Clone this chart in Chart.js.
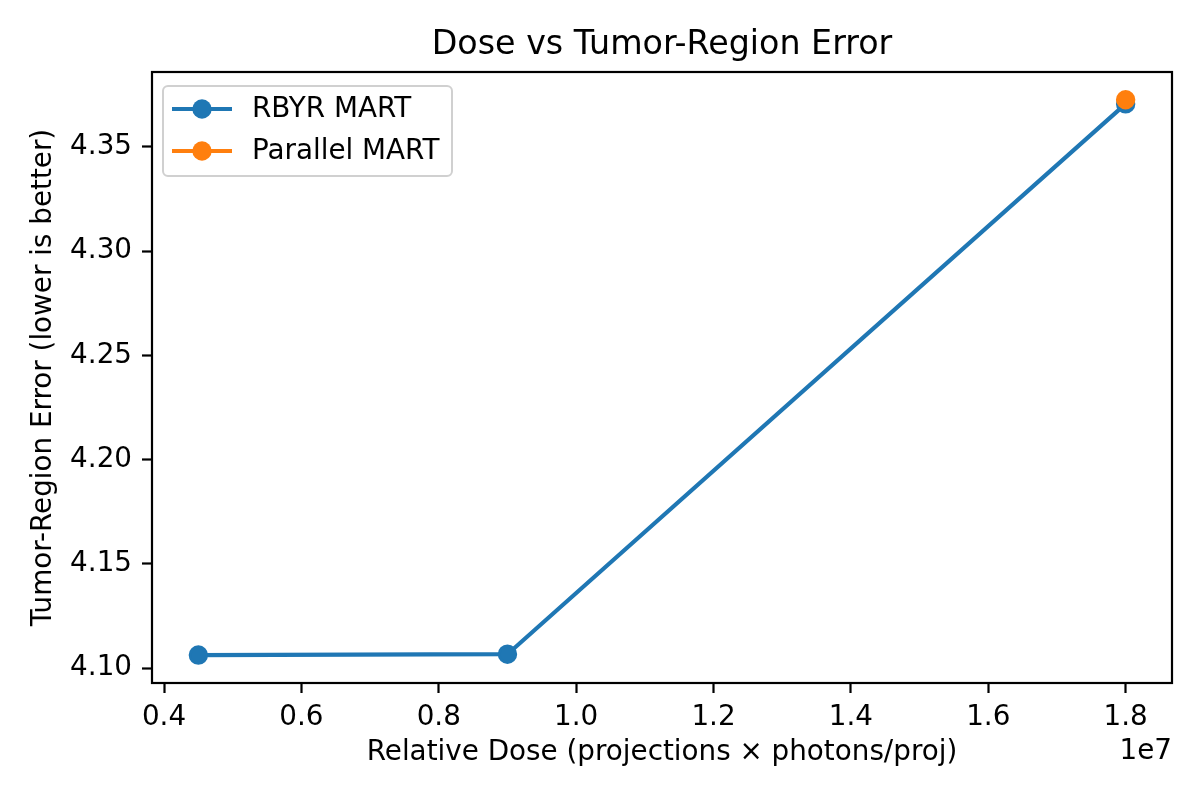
<!DOCTYPE html>
<html>
<head>
<meta charset="utf-8">
<script src="https://cdn.jsdelivr.net/npm/chart.js@4.4.0/dist/chart.umd.min.js"></script>
<style>
  body { margin: 0; background: #fff; }
  canvas { display: block; }
</style>
</head>
<body>
<canvas id="chart" width="1200" height="800"></canvas>
<script>
// data
const doseValues = [4.5e6, 9e6, 1.8e7];
const rbyrError = [4.1063, 4.1067, 4.3706];
const parallelDose = [1.8e7];
const parallelError = [4.3726];
const xTickValues = [4e6, 6e6, 8e6, 1e7, 1.2e7, 1.4e7, 1.6e7, 1.8e7];
const yTickValues = [4.10, 4.15, 4.20, 4.25, 4.30, 4.35];

const BLUE = '#1f77b4';
const ORANGE = '#ff7f0e';
const FONT = "'DejaVu Sans', sans-serif";
const FS = 27.8;
const TITLE = 'Dose vs Tumor-Region Error';

const toPoints = (xs, ys) => xs.map((x, i) => ({ x: x, y: ys[i] }));

// box round the axes, title centred over the axes, and the 1e7 offset text
const framePlugin = {
  id: 'frame',
  afterDraw(chart) {
    const { ctx, chartArea } = chart;
    ctx.save();
    ctx.strokeStyle = '#000';
    ctx.lineWidth = 2.2;
    ctx.strokeRect(chartArea.left, chartArea.top, chartArea.right - chartArea.left, chartArea.bottom - chartArea.top);
    ctx.fillStyle = '#000';
    ctx.font = '33.3px ' + FONT;
    ctx.textAlign = 'center';
    ctx.textBaseline = 'middle';
    ctx.fillText(TITLE, (chartArea.left + chartArea.right) / 2, 45);
    ctx.font = FS + 'px ' + FONT;
    ctx.textAlign = 'right';
    ctx.fillText('1e7', chartArea.right, 752);
    ctx.restore();
  }
};

// matplotlib-like legend in the upper left of the axes
const legendPlugin = {
  id: 'boxLegend',
  afterDraw(chart) {
    const { ctx, chartArea } = chart;
    const x0 = chartArea.left + 11;
    const y0 = chartArea.top + 14;
    const w = 289, h = 90;
    ctx.save();
    ctx.beginPath();
    ctx.roundRect(x0, y0, w, h, 5);
    ctx.fillStyle = 'rgba(255,255,255,0.8)';
    ctx.fill();
    ctx.strokeStyle = '#d0d0d0';
    ctx.lineWidth = 2;
    ctx.stroke();
    chart.data.datasets.forEach((ds, i) => {
      const y = y0 + 23 + i * 42;
      ctx.strokeStyle = ds.borderColor;
      ctx.lineWidth = 4.2;
      ctx.beginPath();
      ctx.moveTo(x0 + 9, y);
      ctx.lineTo(x0 + 69, y);
      ctx.stroke();
      ctx.fillStyle = ds.backgroundColor;
      ctx.beginPath();
      ctx.arc(x0 + 39, y, 9.7, 0, Math.PI * 2);
      ctx.fill();
      ctx.fillStyle = '#000';
      ctx.font = FS + 'px ' + FONT;
      ctx.textAlign = 'left';
      ctx.textBaseline = 'middle';
      ctx.fillText(ds.label, x0 + 89, y + 1);
    });
    ctx.restore();
  }
};

const tickGrid = {
  display: true,
  drawOnChartArea: false,
  drawTicks: true,
  tickLength: 10,
  tickWidth: 2.2,
  tickColor: '#000'
};

new Chart(document.getElementById('chart').getContext('2d'), {
  type: 'line',
  data: {
    datasets: [
      {
        label: 'RBYR MART',
        data: toPoints(doseValues, rbyrError),
        borderColor: BLUE,
        backgroundColor: BLUE,
        borderWidth: 4.2,
        pointRadius: 8.3,
        pointBorderWidth: 2.8,
        order: 2
      },
      {
        label: 'Parallel MART',
        data: toPoints(parallelDose, parallelError),
        borderColor: ORANGE,
        backgroundColor: ORANGE,
        borderWidth: 4.2,
        pointRadius: 8.3,
        pointBorderWidth: 2.8,
        order: 1
      }
    ]
  },
  options: {
    responsive: false,
    animation: false,
    devicePixelRatio: 1,
    layout: { padding: { left: 0, right: 28, top: 72, bottom: 0 } },
    plugins: {
      legend: { display: false },
      tooltip: { enabled: false },
      title: { display: false }
    },
    scales: {
      x: {
        type: 'linear',
        min: 3.825e6,
        max: 1.8675e7,
        afterBuildTicks: scale => { scale.ticks = xTickValues.map(v => ({ value: v })); },
        afterFit: scale => { scale.height = 117; },
        grid: tickGrid,
        border: { display: false },
        ticks: {
          color: '#000',
          padding: 8,
          maxRotation: 0,
          font: { family: FONT, size: FS },
          callback: v => (v / 1e7).toFixed(1)
        },
        title: {
          display: true,
          text: 'Relative Dose (projections × photons/proj)',
          color: '#000',
          font: { family: FONT, size: FS, lineHeight: 1.2 },
          padding: { top: 0, bottom: 31 }
        }
      },
      y: {
        type: 'linear',
        min: 4.0929,
        max: 4.3859,
        afterBuildTicks: scale => { scale.ticks = yTickValues.map(v => ({ value: v })); },
        afterFit: scale => { scale.width = 152; },
        grid: tickGrid,
        border: { display: false },
        ticks: {
          color: '#000',
          padding: 10,
          font: { family: FONT, size: FS },
          callback: v => v.toFixed(2)
        },
        title: {
          display: true,
          text: 'Tumor-Region Error (lower is better)',
          color: '#000',
          font: { family: FONT, size: FS, lineHeight: 1.2 },
          padding: { top: 27, bottom: 0 }
        }
      }
    }
  },
  plugins: [framePlugin, legendPlugin]
});
</script>
</body>
</html>
